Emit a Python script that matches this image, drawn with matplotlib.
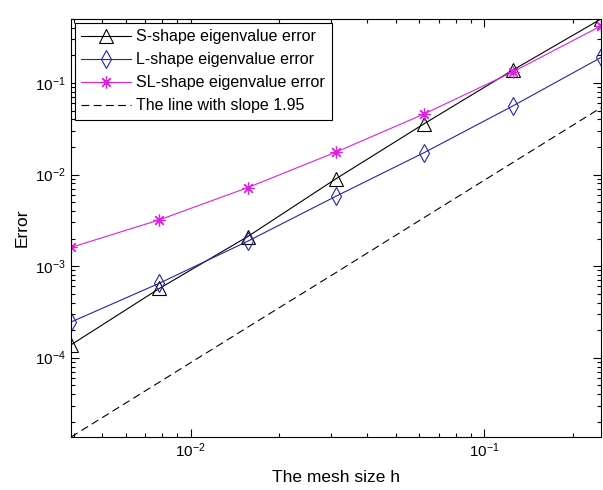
import matplotlib
matplotlib.use("Agg")
import matplotlib.pyplot as plt
from matplotlib.ticker import LogLocator, NullFormatter

plt.rcParams.update(
    {
        "font.family": ["Liberation Sans", "DejaVu Sans"],
        "mathtext.fontset": "custom",
        "mathtext.rm": "Liberation Sans",
        "mathtext.it": "Liberation Sans",
        "font.size": 10,
    }
)

# mesh sizes h = 1/256 ... 1/4
h = [1 / 256, 1 / 128, 1 / 64, 1 / 32, 1 / 16, 1 / 8, 1 / 4]
s_err = [1.38e-4, 5.7e-4, 2.1e-3, 9.0e-3, 0.036, 0.138, 0.50]
l_err = [2.45e-4, 6.5e-4, 1.87e-3, 5.8e-3, 0.0174, 0.056, 0.19]
sl_err = [1.6e-3, 3.2e-3, 7.2e-3, 0.0176, 0.046, 0.132, 0.42]
ref_line = [1.36e-5, 5.4e-5, 2.15e-4, 8.5e-4, 3.4e-3, 0.0135, 0.0537]

fig = plt.figure(figsize=(6.03, 4.90), dpi=100)
ax = fig.add_axes([71 / 603, 53 / 490, 530 / 603, 418 / 490])

ax.loglog(h, s_err, color="black", lw=0.8, marker="^", ms=10, mfc="none",
          mec="black", mew=0.8, label="S-shape eigenvalue error")
ax.loglog(h, l_err, color="#2424a8", lw=0.8, marker="d", ms=9, mfc="none",
          mec="#2424a8", mew=0.8, label="L-shape eigenvalue error")
ax.loglog(h, sl_err, color="#e020e0", lw=0.8, marker=(8, 2, 0), ms=8.5,
          mec="#e020e0", mew=0.9, label="SL-shape eigenvalue error")
ax.loglog(h, ref_line, color="black", lw=0.8, ls=(0, (7, 4)),
          label="The line with slope 1.95")

ax.set_xlim(h[0], h[-1])
ax.set_ylim(ref_line[0], s_err[-1])

ax.xaxis.set_major_locator(LogLocator(base=10))
ax.xaxis.set_minor_locator(LogLocator(base=10, subs=range(2, 10)))
ax.xaxis.set_minor_formatter(NullFormatter())
ax.yaxis.set_minor_formatter(NullFormatter())
ax.tick_params(which="both", direction="in", top=True, right=True, labelsize=11)
ax.tick_params(which="major", length=6, width=0.8)
ax.tick_params(which="minor", length=3, width=0.8)
for sp in ax.spines.values():
    sp.set_linewidth(0.8)

ax.set_xlabel("The mesh size h", fontsize=12.5, labelpad=7)
ax.set_ylabel("Error", fontsize=12.5)

leg = ax.legend(loc="upper left", fontsize=11.5, handlelength=3.1, fancybox=False,
                framealpha=1, edgecolor="black", borderaxespad=0.25,
                labelspacing=0.5, borderpad=0.4, handletextpad=0.35)
leg.get_frame().set_linewidth(0.8)

fig.savefig("out.png", dpi=100)
